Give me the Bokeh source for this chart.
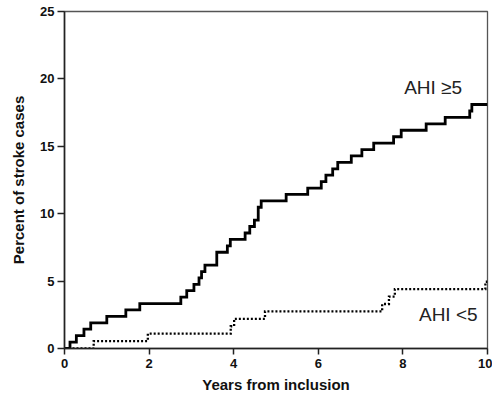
from bokeh.plotting import figure
from bokeh.models import Range1d, FixedTicker, Label
from bokeh.embed import file_html
from bokeh.resources import INLINE

# AHI >= 5 : cumulative percent of stroke cases (step after each event time)
years_ahi_ge5 = [0, 0.13, 0.28, 0.46, 0.62, 1.00, 1.45, 1.78, 2.75, 2.89,
                 3.06, 3.18, 3.24, 3.32, 3.60, 3.85, 3.92, 4.27, 4.38, 4.49,
                 4.58, 4.65, 5.24, 5.75, 6.07, 6.18, 6.34, 6.46, 6.78, 7.03,
                 7.31, 7.78, 7.96, 8.55, 9.00, 9.58, 9.63, 10.0]
pct_ahi_ge5 = [0, 0.48, 0.95, 1.43, 1.90, 2.38, 2.86, 3.33, 3.81, 4.29,
               4.76, 5.24, 5.71, 6.19, 7.14, 7.62, 8.10, 8.57, 9.05, 9.52,
               10.48, 10.95, 11.43, 11.90, 12.38, 12.86, 13.33, 13.81, 14.29, 14.76,
               15.24, 15.71, 16.19, 16.67, 17.14, 17.62, 18.10, 18.10]

# AHI < 5
years_ahi_lt5 = [0, 0.69, 1.97, 3.93, 4.01, 4.74, 7.51, 7.67, 7.81, 9.95, 10.0]
pct_ahi_lt5 = [0, 0.55, 1.10, 1.65, 2.20, 2.75, 3.30, 3.85, 4.40, 4.95, 4.95]

x_ticks = [0, 2, 4, 6, 8, 10]
y_ticks = [0, 5, 10, 15, 20, 25]
label_ge5 = "AHI \u22655"
label_lt5 = "AHI <5"
x_title = "Years from inclusion"
y_title = "Percent of stroke cases"

FONT = "Liberation Sans"

p = figure(width=492, height=396, output_backend="svg", toolbar_location=None,
           x_range=Range1d(0, 10), y_range=Range1d(0, 25),
           min_border_left=64, min_border_right=5, min_border_top=11,
           min_border_bottom=48)
p.background_fill_color = "white"
p.border_fill_color = "white"
p.outline_line_color = "#555555"
p.outline_line_width = 1.3
p.xgrid.grid_line_color = None
p.ygrid.grid_line_color = None

p.step(years_ahi_ge5, pct_ahi_ge5, mode="after", line_color="black",
       line_width=2.8, line_join="miter")
p.step(years_ahi_lt5, pct_ahi_lt5, mode="after", line_color="black",
       line_width=2.3, line_dash="2 2", line_join="miter")

p.xaxis.ticker = FixedTicker(ticks=x_ticks)
p.yaxis.ticker = FixedTicker(ticks=y_ticks)
for ax in (p.xaxis, p.yaxis):
    ax.axis_line_color = "#222222"
    ax.axis_line_width = 1.6
    ax.major_tick_line_color = "#222222"
    ax.major_tick_line_width = 1.5
    ax.major_tick_in = 0
    ax.minor_tick_line_color = None
    ax.major_label_text_font = FONT
    ax.major_label_text_font_size = "13px"
    ax.major_label_text_font_style = "bold"
    ax.major_label_text_color = "#111111"
    ax.axis_label_text_font = FONT
    ax.axis_label_text_font_size = "15px"
    ax.axis_label_text_font_style = "bold"
    ax.axis_label_text_color = "#111111"

p.xaxis.major_tick_out = 6
p.xaxis.major_label_standoff = 4
p.xaxis.axis_label_standoff = 5
p.xaxis.axis_label = x_title
p.yaxis.major_tick_out = 7
p.yaxis.major_label_standoff = 3
p.yaxis.axis_label_standoff = 10
p.yaxis.axis_label = y_title

p.add_layout(Label(x=8.03, y=19.33, text=label_ge5, text_font=FONT,
                   text_font_size="19px", text_color="#222222",
                   text_baseline="alphabetic"))
p.add_layout(Label(x=8.38, y=2.51, text=label_lt5, text_font=FONT,
                   text_font_size="19px", text_color="#222222",
                   text_baseline="alphabetic"))

open("out.html", "w").write(file_html(p, INLINE))
